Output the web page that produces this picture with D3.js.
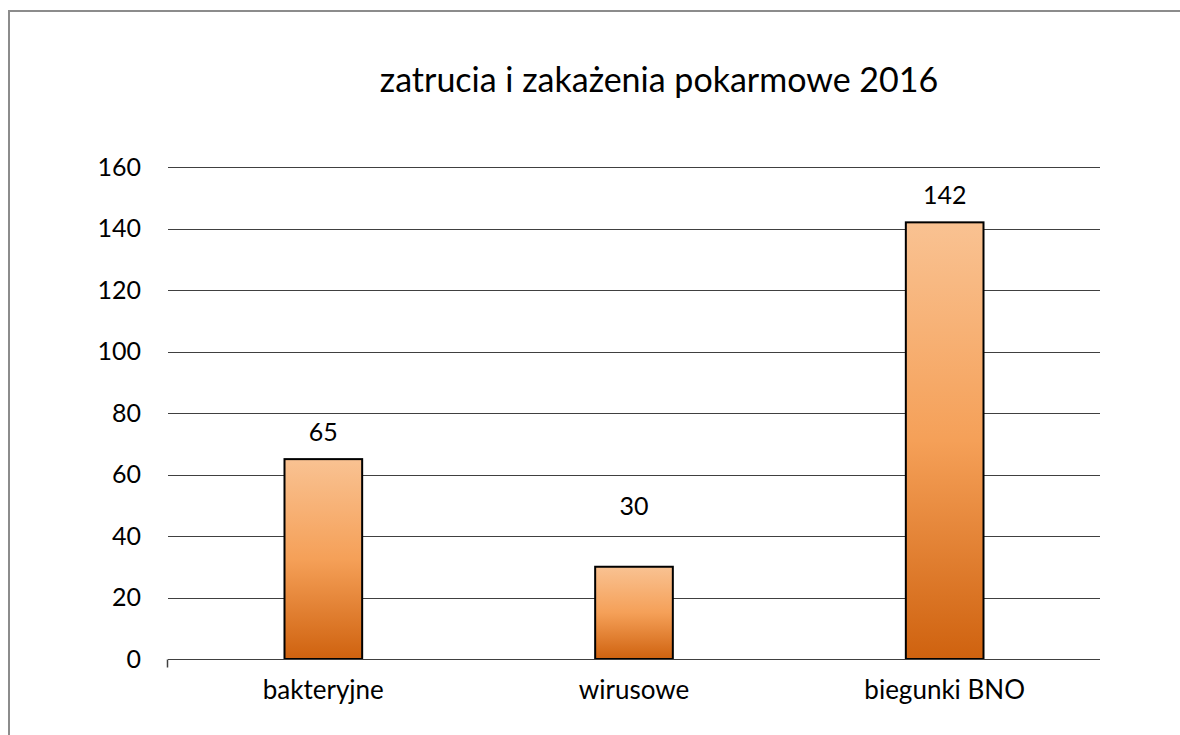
<!DOCTYPE html>
<html>
<head>
<meta charset="utf-8">
<script src="https://cdn.jsdelivr.net/npm/d3@7"></script>
<style>
  body { margin: 0; background: #fff; }
  text { font-family: Lato, "Open Sans", sans-serif; fill: #000; }
</style>
</head>
<body>
<script>
var categories = ['bakteryjne', 'wirusowe', 'biegunki BNO'];
var values = [65, 30, 142];
var yTicks = [0, 20, 40, 60, 80, 100, 120, 140, 160];
var title = 'zatrucia i zakażenia pokarmowe 2016';

// label lift above the bar top, in px (the middle one sits higher in the original)
var labelLift = [27, 61, 27];

var width = 1180,
    height = 735;
var margin = {left: 168, right: 80, top: 167, bottom: 76};

var svg = d3.select('body')
  .append('svg')
  .attr('width', width)
  .attr('height', height);

// outer frame
svg.append('rect')
  .attr('x', 9)
  .attr('y', 11)
  .attr('width', 1200)
  .attr('height', 800)
  .attr('fill', 'none')
  .attr('stroke', '#8c8c8c')
  .attr('stroke-width', 2);

var grad = svg.append('defs').append('linearGradient')
  .attr('id', 'barFill')
  .attr('x1', 0).attr('y1', 0)
  .attr('x2', 0).attr('y2', 1);
grad.append('stop').attr('offset', '0%').attr('stop-color', '#f9c292');
grad.append('stop').attr('offset', '50%').attr('stop-color', '#f5a058');
grad.append('stop').attr('offset', '100%').attr('stop-color', '#cf620f');

var x = d3.scaleBand()
  .domain(categories)
  .range([margin.left, width - margin.right])
  .paddingInner(0.75)
  .paddingOuter(0.375);

var y = d3.scaleLinear()
  .domain([0, 160])
  .range([height - margin.bottom, margin.top]);

// gridlines
svg.append('g')
  .selectAll('line')
  .data(yTicks.slice(1))
  .enter().append('line')
  .attr('x1', margin.left)
  .attr('x2', width - margin.right)
  .attr('y1', function (d) { return Math.round(y(d)) + 0.5; })
  .attr('y2', function (d) { return Math.round(y(d)) + 0.5; })
  .attr('stroke', '#404040')
  .attr('stroke-width', 1);

// y axis labels
svg.append('g')
  .selectAll('text')
  .data(yTicks)
  .enter().append('text')
  .attr('x', 141)
  .attr('y', function (d) { return y(d); })
  .attr('dy', '0.35em')
  .attr('text-anchor', 'end')
  .style('font-size', '25px')
  .text(function (d) { return d; });

// bars
svg.append('g')
  .selectAll('rect')
  .data(values)
  .enter().append('rect')
  .attr('x', function (d, i) { return x(categories[i]); })
  .attr('y', function (d) { return y(d); })
  .attr('width', x.bandwidth())
  .attr('height', function (d) { return y(0) - y(d); })
  .attr('fill', 'url(#barFill)')
  .attr('stroke', '#000')
  .attr('stroke-width', 2);

// x axis line + left tick
var y0 = Math.round(y(0)) + 0.5;
svg.append('line')
  .attr('x1', margin.left)
  .attr('x2', width - margin.right)
  .attr('y1', y0)
  .attr('y2', y0)
  .attr('stroke', '#404040')
  .attr('stroke-width', 1);
svg.append('line')
  .attr('x1', margin.left - 0.5)
  .attr('x2', margin.left - 0.5)
  .attr('y1', y0)
  .attr('y2', y0 + 8)
  .attr('stroke', '#404040')
  .attr('stroke-width', 1.5);

// value labels
svg.append('g')
  .selectAll('text')
  .data(values)
  .enter().append('text')
  .attr('x', function (d, i) { return x(categories[i]) + x.bandwidth() / 2; })
  .attr('y', function (d, i) { return y(d) - labelLift[i]; })
  .attr('dy', '0.35em')
  .attr('text-anchor', 'middle')
  .style('font-size', '25px')
  .text(function (d) { return d; });

// category labels
svg.append('g')
  .selectAll('text')
  .data(categories)
  .enter().append('text')
  .attr('x', function (d) { return x(d) + x.bandwidth() / 2; })
  .attr('y', 690)
  .attr('dy', '0.35em')
  .attr('text-anchor', 'middle')
  .style('font-size', '26px')
  .text(function (d) { return d; });

svg.append('text')
  .attr('x', 659)
  .attr('y', 92)
  .attr('text-anchor', 'middle')
  .style('font-size', '34px')
  .text(title);
</script>
</body>
</html>
